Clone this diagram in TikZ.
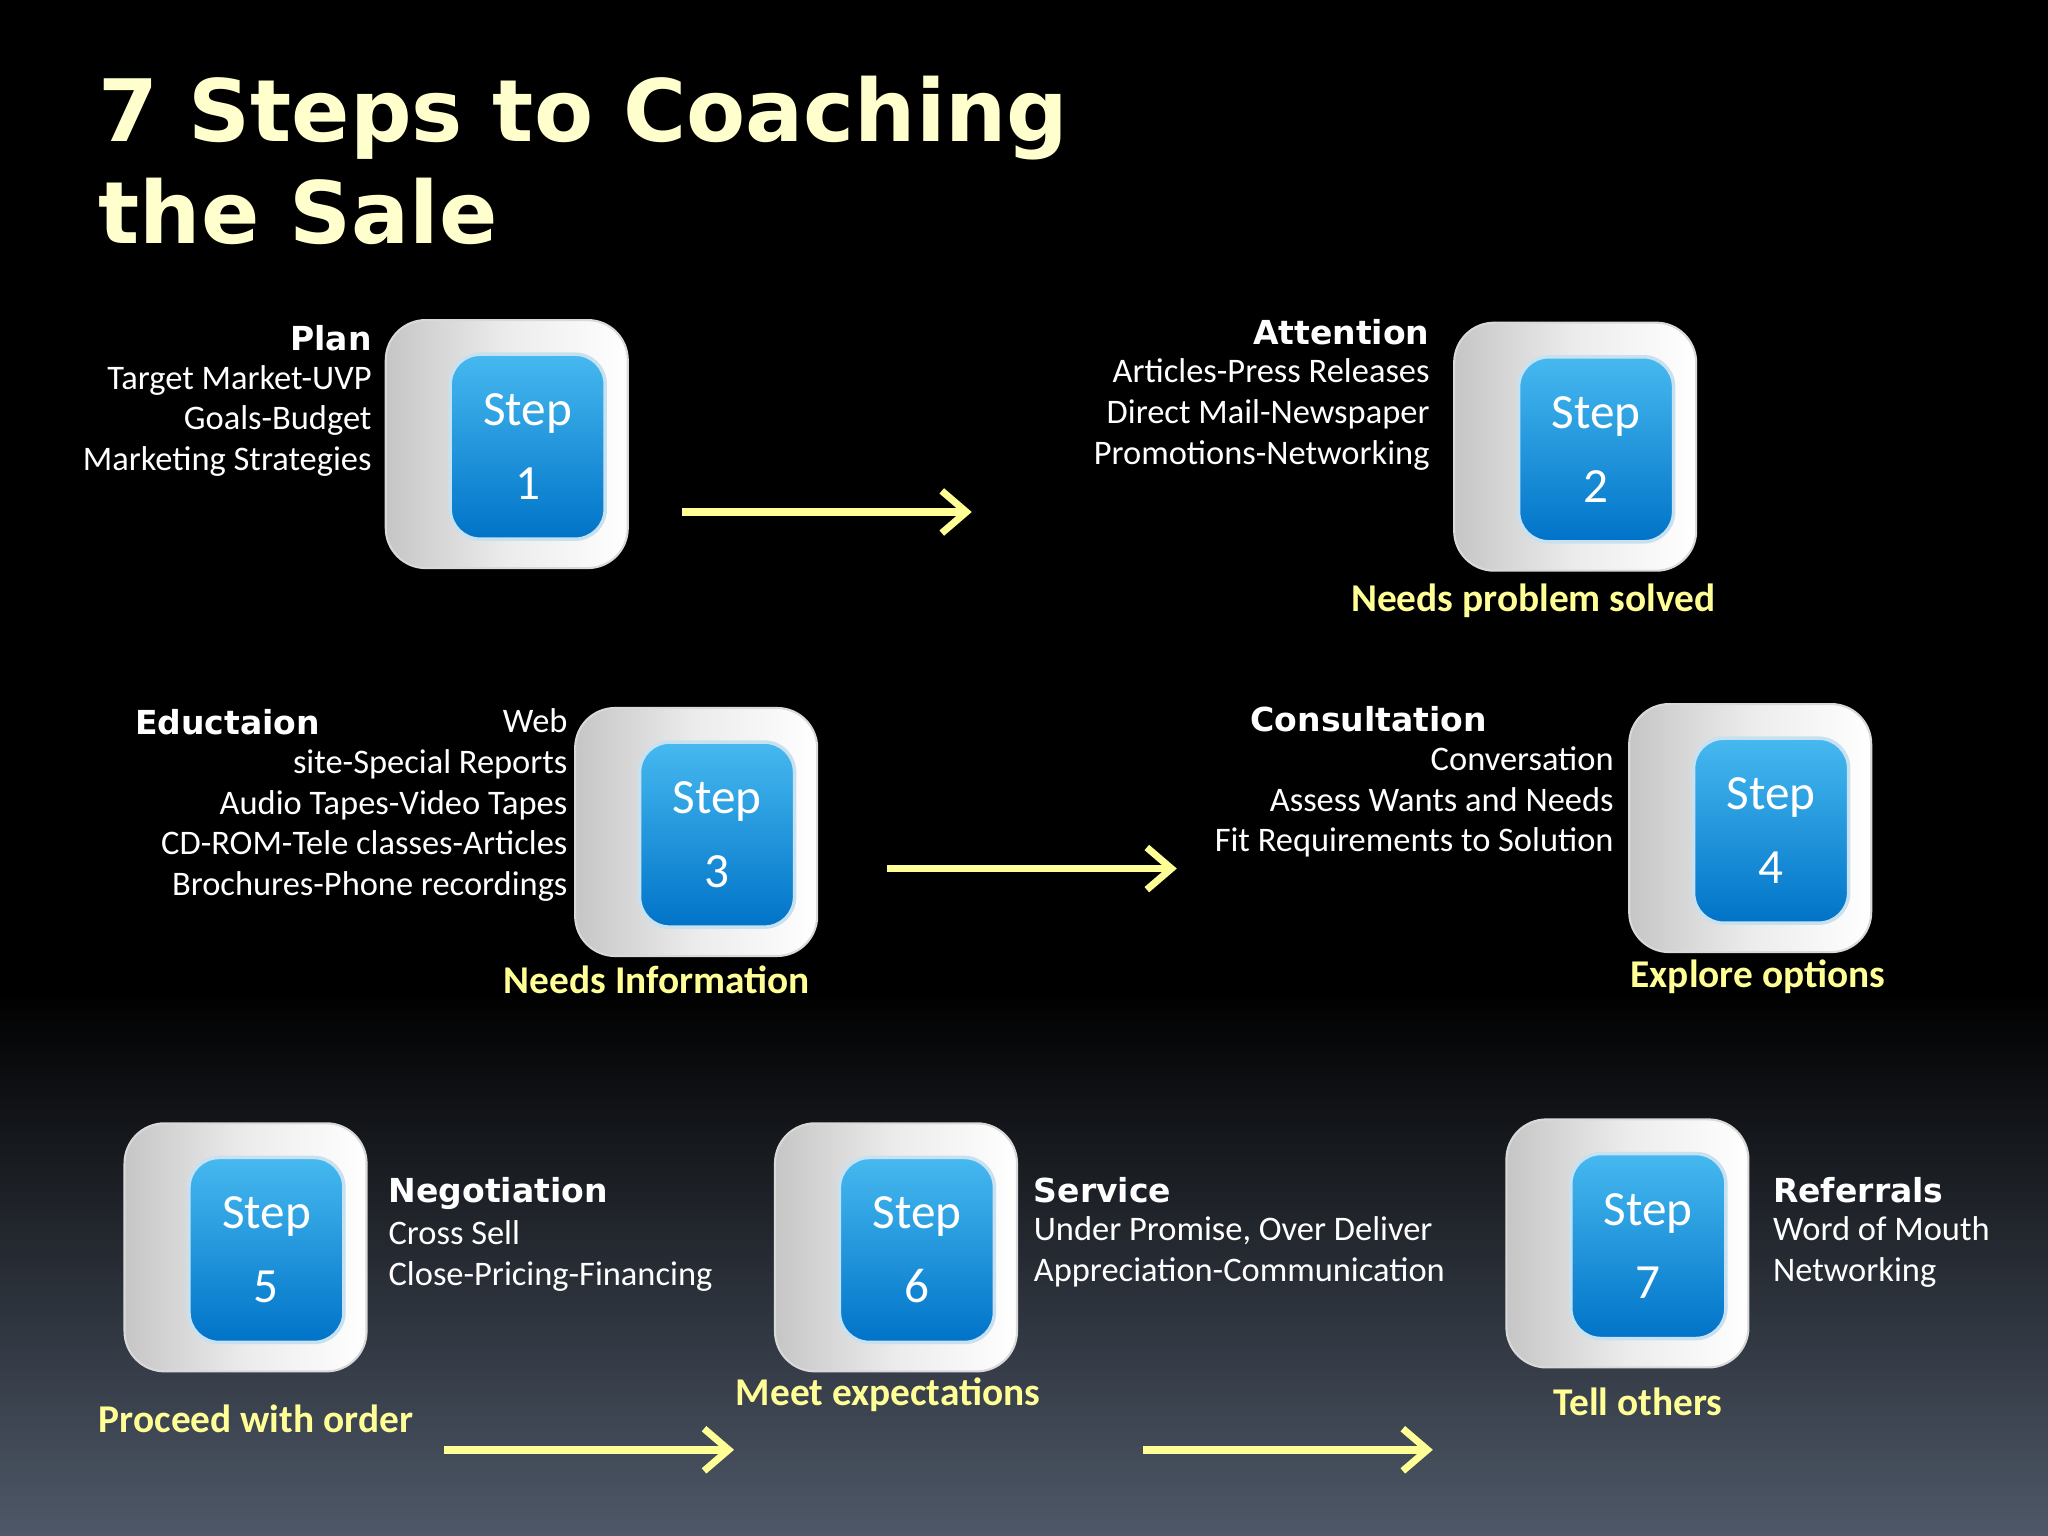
\documentclass[tikz,border=0pt]{standalone}
\usepackage{fontspec}
\setmainfont{Carlito}
\newfontfamily\heavy{DejaVu Sans}[BoldFont={DejaVu Sans Bold}]
\usetikzlibrary{arrows.meta,shapes.misc}
\definecolor{ttl}{RGB}{255,255,205}
\definecolor{ylab}{RGB}{255,255,150}
\definecolor{bluetop}{RGB}{70,185,240}
\definecolor{bluebot}{RGB}{0,115,200}
\definecolor{bgbot}{RGB}{78,88,104}
\definecolor{rim}{RGB}{200,225,240}
\tikzset{
 body/.style={rounded corners=0.4cm,minimum width=2.42cm,minimum height=2.48cm,left color=gray!45,right color=white,middle color=gray!15,draw=gray!30,line width=0.6pt},
 face/.style={rounded corners=0.3cm,minimum width=1.55cm,minimum height=1.85cm,top color=bluetop,bottom color=bluebot,draw=rim,line width=1pt,text=white,align=center,font=\fontsize{14}{21}\selectfont},
 txt/.style={text=white,font=\fontsize{9.8}{11.6}\selectfont,inner sep=0pt},
 hd/.style={text=white,font=\heavy\bfseries\fontsize{9.4}{11.6}\selectfont,inner sep=0pt},
 ylw/.style={text=ylab,font=\bfseries\fontsize{11.2}{13}\selectfont,inner sep=0pt},
 arr/.style={draw=ylab,line width=2.2pt,-{Straight Barb[length=7pt,width=12pt,line width=2pt]}}
}
\newcommand\mkstep[4]{% name, x, y, number
 \node[body] (#1b) at (#2,#3) {};
 \node[face] (#1) at (#2+16,#3+2) {Step\\#4};
}
\begin{document}
\begin{tikzpicture}[x=0.013061cm,y=-0.013061cm]
\fill[black] (0,0) rectangle (1568,760);
\shade[top color=black,bottom color=bgbot] (0,759) rectangle (1568,1176);
\useasboundingbox (0,0) rectangle (1568,1176);
\node[anchor=north west,text=ttl,font=\heavy\bfseries\fontsize{24.5}{28.8}\selectfont,align=left,inner sep=0pt] (title) at (75,58) {7 Steps to Coaching\\the Sale};

\mkstep{s1}{388}{340}{1}
\mkstep{s2}{1206}{342}{2}
\mkstep{s3}{533}{637}{3}
\mkstep{s4}{1340}{634}{4}
\mkstep{s5}{188}{955}{5}
\mkstep{s6}{686}{955}{6}
\mkstep{s7}{1246}{952}{7}

\node[hd,anchor=east] (h1) at (285,259) {Plan};
\node[txt,anchor=north east,align=right] (t1) at (285,279) {Target Market-UVP\\Goals-Budget\\Marketing Strategies};
\node[hd,anchor=east] (h2) at (1095,254) {Attention};
\node[txt,anchor=north east,align=right] (t2) at (1095,274) {Articles-Press Releases\\Direct Mail-Newspaper\\Promotions-Networking};
\node[ylw] (y2) at (1174,460) {Needs problem solved};
\node[hd,anchor=west] (h3) at (103,553) {Eductaion};
\node[txt,anchor=north east,align=right] (t3) at (435,542) {Web\\site-Special Reports\\Audio Tapes-Video Tapes\\CD-ROM-Tele classes-Articles\\Brochures-Phone recordings};
\node[ylw] (y3) at (503,750) {Needs Information};
\node[hd,anchor=west] (h4) at (957,551) {Consultation};
\node[txt,anchor=north east,align=right] (t4) at (1236,571) {Conversation\\Assess Wants and Needs\\Fit Requirements to Solution};
\node[ylw] (y4) at (1346,748) {Explore options};
\node[hd,anchor=west] (h5) at (297,914) {Negotiation};
\node[txt,anchor=north west,align=left] (t5) at (297,934) {Cross Sell\\Close-Pricing-Financing};
\node[ylw] (y5) at (196,1086) {Proceed with order};
\node[hd,anchor=west] (h6) at (791,911) {Service};
\node[txt,anchor=north west,align=left] (t6) at (791,931) {Under Promise, Over Deliver\\Appreciation-Communication};
\node[ylw] (y6) at (680,1068) {Meet expectations};
\node[hd,anchor=west] (h7) at (1357,911) {Referrals};
\node[txt,anchor=north west,align=left] (t7) at (1357,931) {Word of Mouth\\Networking};
\node[ylw] (y7) at (1254,1073) {Tell others};

\coordinate (a1s) at (522,392); \coordinate (a1e) at (744,392);
\coordinate (a2s) at (679,665); \coordinate (a2e) at (901,665);
\coordinate (a3s) at (340,1110); \coordinate (a3e) at (562,1110);
\coordinate (a4s) at (875,1110); \coordinate (a4e) at (1097,1110);
\draw[arr] (a1s) -- (a1e);
\draw[arr] (a2s) -- (a2e);
\draw[arr] (a3s) -- (a3e);
\draw[arr] (a4s) -- (a4e);
\end{tikzpicture}
\end{document}
